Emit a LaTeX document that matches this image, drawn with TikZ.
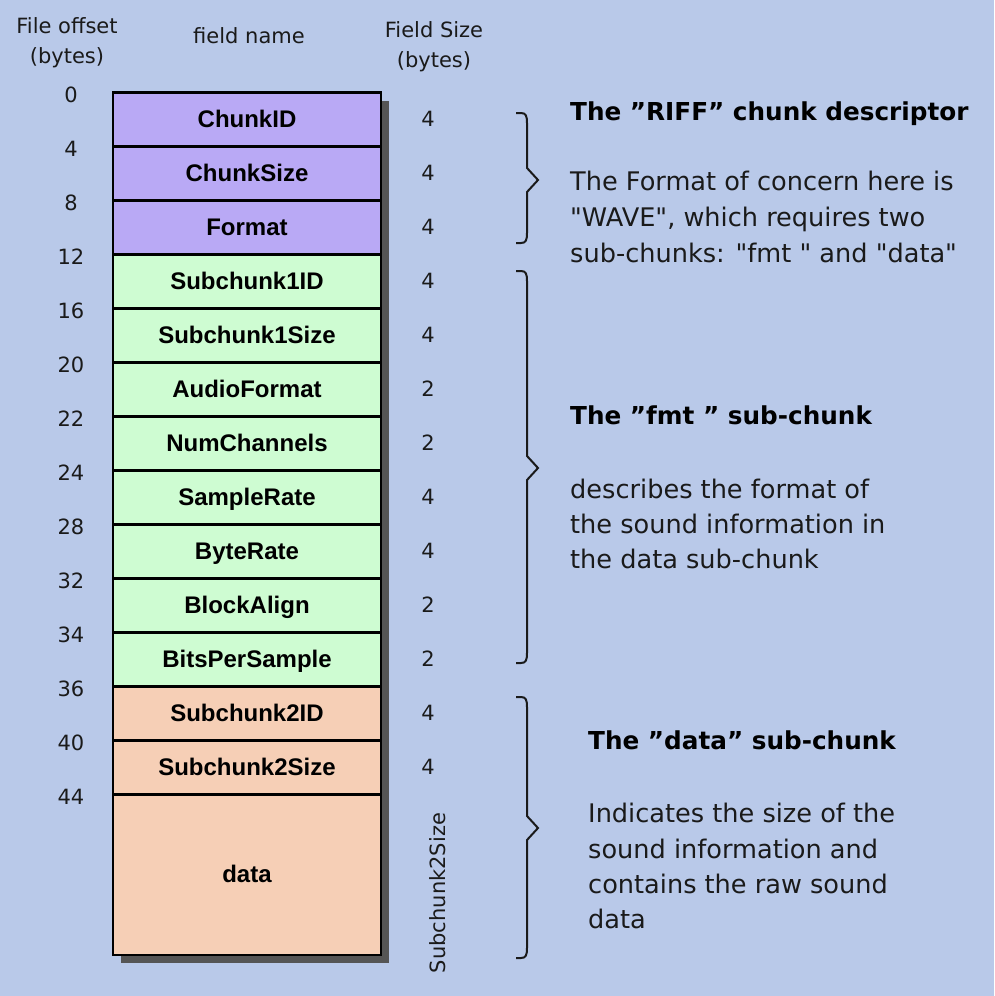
\documentclass[tikz,border=0pt]{standalone}
\usepackage{fontspec}
\setmainfont{DejaVu Sans}[Ligatures=TeXOff]
\newfontfamily\fieldfont{Liberation Sans}
\definecolor{bgc}{HTML}{B9C9E9}
\definecolor{riffc}{HTML}{B9A9F5}
\definecolor{fmtc}{HTML}{CEFCD2}
\definecolor{datac}{HTML}{F6CFB6}
\definecolor{shadowc}{HTML}{555555}
\definecolor{inkc}{HTML}{1A1A1A}
\tikzset{
  rowbox/.style={draw=black, line width=2.5pt, minimum width=268pt, minimum height=54pt,
    inner sep=0pt, text height=17pt, text depth=1pt,
    font=\fieldfont\bfseries\fontsize{24}{24}\selectfont},
  small/.style={font=\fontsize{21}{21}\selectfont, inner sep=0pt, text=inkc},
  numlbl/.style={small, anchor=base},
  headtxt/.style={font=\bfseries\fontsize{24.7}{24.7}\selectfont, inner sep=0pt, anchor=base west},
  bodytxt/.style={font=\fontsize{25.6}{25.6}\selectfont, inner sep=0pt, anchor=base west, text=inkc},
  bracec/.style={draw=inkc, line width=2pt, line join=miter}
}
\begin{document}
\begin{tikzpicture}[x=1pt,y=-1pt]
\fill[bgc] (0,0) rectangle (994,996);
\useasboundingbox (0,0) rectangle (994,996);

% headers
\node[numlbl] (hoff1) at (67,33) {File offset};
\node[numlbl] (hoff2) at (67,63) {(bytes)};
\node[numlbl] (hname) at (249,43) {field name};
\node[numlbl] (hsz1) at (434,37) {Field Size};
\node[numlbl] (hsz2) at (434,67) {(bytes)};

% shadow
\fill[shadowc] (121,100.5) rectangle (389,963);

% rows
\foreach \nm/\sz/\col [count=\i from 0] in {
  ChunkID/4/riffc, ChunkSize/4/riffc, Format/4/riffc,
  Subchunk1ID/4/fmtc, Subchunk1Size/4/fmtc, AudioFormat/2/fmtc, NumChannels/2/fmtc,
  SampleRate/4/fmtc, ByteRate/4/fmtc, BlockAlign/2/fmtc, BitsPerSample/2/fmtc,
  Subchunk2ID/4/datac, Subchunk2Size/4/datac} {
  \node[rowbox, fill=\col] (r\i) at (247, 92.5+54*\i+27) {\nm};
  \node[numlbl] (s\i) at (428, 92.5+54*\i+34) {\sz};
}
\node[rowbox, fill=datac, minimum height=160.5pt] (rdata) at (247, 874.75) {data};
\node[small, rotate=90, anchor=base] (sdata) at (445,893) {Subchunk2Size};

% offsets
\foreach \o [count=\k from 0] in {0,4,8,12,16,20,22,24,28,32,34,36,40,44} {
  \node[numlbl] (o\k) at (71, 92.5+54*\k+9.5) {\o};
}

% braces
\draw[bracec] (516,113) -- (521,113) .. controls (526,113) and (527,116) .. (527,123)
  -- (527,168) -- (538,180) -- (527,192) -- (527,233) .. controls (527,240) and (526,243) .. (521,243) -- (516,243);
\draw[bracec] (516,271) -- (521,271) .. controls (526,271) and (527,274) .. (527,281)
  -- (527,456) -- (538,468) -- (527,480) -- (527,653) .. controls (527,660) and (526,663) .. (521,663) -- (516,663);
\draw[bracec] (516,697) -- (521,697) .. controls (526,697) and (527,700) .. (527,707)
  -- (527,816) -- (538,828) -- (527,840) -- (527,948) .. controls (527,955) and (526,958) .. (521,958) -- (516,958);

% right texts
\node[headtxt] (t1) at (570,120) {The ”RIFF” chunk descriptor};
\node[bodytxt] (t1a) at (570,190) {The Format of concern here is};
\node[bodytxt] (t1b) at (570,226) {"WAVE", which requires two};
\node[bodytxt] (t1c) at (570,262) {sub-chunks: "fmt " and "data"};

\node[headtxt] (t2) at (570,424) {The ”fmt ” sub-chunk};
\node[bodytxt] (t2a) at (570,498) {describes the format of};
\node[bodytxt] (t2b) at (570,533) {the sound information in};
\node[bodytxt] (t2c) at (570,568) {the data sub-chunk};

\node[headtxt] (t3) at (588,749) {The ”data” sub-chunk};
\node[bodytxt] (t3a) at (588,822) {Indicates the size of the};
\node[bodytxt] (t3b) at (588,858) {sound information and};
\node[bodytxt] (t3c) at (588,893) {contains the raw sound};
\node[bodytxt] (t3d) at (588,928) {data};
\end{tikzpicture}
\end{document}
